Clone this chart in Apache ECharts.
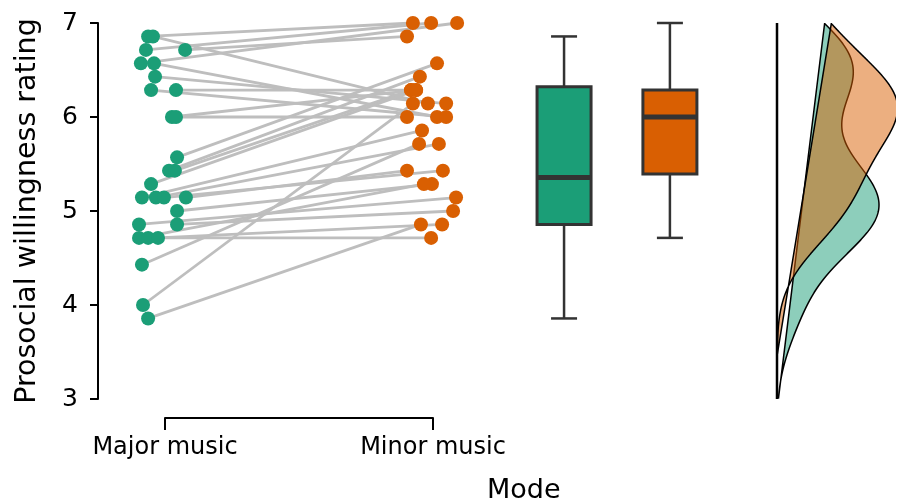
<!DOCTYPE html>
<html><head><meta charset="utf-8">
<script src="https://cdn.jsdelivr.net/npm/echarts@6/dist/echarts.min.js"></script>
<style>html,body{margin:0;padding:0;background:#fff}#c{width:897px;height:503px}</style>
</head><body><div id="c"></div>
<script>
// ---------------- data ----------------
const categories = ['Major music', 'Minor music'];
const yTicks = [3, 4, 5, 6, 7];
const axisTitleY = 'Prosocial willingness rating';
const axisTitleX = 'Mode';
// paired scores (participant i: major -> minor)
const majorScores = [6.857, 6.857, 6.714, 6.714, 6.571, 6.571, 6.429, 6.286, 6.286, 6.0, 6.0, 5.571, 5.429, 5.429,
  5.286, 5.143, 5.143, 5.143, 5.143, 5.0, 4.857, 4.857, 4.714, 4.714, 4.714, 4.429, 4.0, 3.857];
const minorScores = [7.0, 6.143, 7.0, 6.857, 7.0, 6.0, 6.143, 6.0, 6.286, 6.286, 6.0, 6.571, 6.429, 6.286,
  6.286, 5.857, 5.714, 5.429, 5.429, 5.286, 5.143, 5.0, 5.286, 4.714, 4.857, 5.714, 6.143, 4.857];
// horizontal jitter (category units)
const majorJitter = [-0.063, -0.045, -0.071, 0.075, -0.090, -0.041, -0.037, -0.052, 0.041, 0.026, 0.041, 0.045, 0.015, 0.037,
  -0.052, -0.086, -0.034, -0.004, 0.078, 0.045, -0.097, 0.045, -0.097, -0.063, -0.026, -0.086, -0.082, -0.063];
const minorJitter = [-0.075, -0.019, -0.007, -0.097, 0.090, 0.015, 0.049, 0.049, -0.082, -0.063, -0.097, 0.015, -0.049, -0.082,
  -0.063, -0.041, 0.022, 0.037, -0.097, -0.004, 0.086, 0.075, -0.034, -0.007, 0.034, -0.052, -0.075, -0.045];

// ---------------- layout / style ----------------
const GREEN = '#1B9E77', ORANGE = '#D95F02';
const FONT = 'DejaVu Sans';
const PX_PER_UNIT = 268;
const X_MIN = 0.75, GRID_W = 798;
const BOX_POS = [2.489, 2.884];
const DENS_BASE = 3.2836;
const DENS_SCALE = 245;          // px per density unit
const BW_ADJUST = [1.0, 1.35];   // bandwidth adjust per group

function quantile(arr, p) {
  const s = arr.slice().sort((a, b) => a - b);
  const h = (s.length - 1) * p, lo = Math.floor(h), hi = Math.ceil(h);
  return s[lo] + (h - lo) * (s[hi] - s[lo]);
}
function boxStats(arr) {
  const q1 = quantile(arr, 0.25), med = quantile(arr, 0.5), q3 = quantile(arr, 0.75);
  const iqr = q3 - q1;
  const inside = arr.filter(v => v >= q1 - 1.5 * iqr && v <= q3 + 1.5 * iqr);
  return [Math.min(...inside), q1, med, q3, Math.max(...inside)];
}
function sd(arr) {
  const m = arr.reduce((a, b) => a + b, 0) / arr.length;
  return Math.sqrt(arr.reduce((a, b) => a + (b - m) * (b - m), 0) / (arr.length - 1));
}
function kde(arr, adjust) {
  const n = arr.length;
  const bw = adjust * 0.9 * Math.min(sd(arr), (quantile(arr, 0.75) - quantile(arr, 0.25)) / 1.34) * Math.pow(n, -0.2);
  const lo = Math.min(...arr) - 3 * bw, hi = Math.max(...arr) + 3 * bw;
  const pts = [];
  for (let i = 0; i < 512; i++) {
    const y = lo + (hi - lo) * i / 511;
    if (y < 3 || y > 7) continue;
    let d = 0;
    for (const v of arr) { const z = (y - v) / bw; d += Math.exp(-0.5 * z * z); }
    d /= n * bw * Math.sqrt(2 * Math.PI);
    pts.push([d, y]);
  }
  return pts;
}

const groups = [
  { scores: majorScores, color: GREEN, fill: 'rgba(27,158,119,0.5)' },
  { scores: minorScores, color: ORANGE, fill: 'rgba(217,95,2,0.5)' }
];

const pairData = majorScores.map((v, i) => [1 + majorJitter[i], v, 2 + minorJitter[i], minorScores[i]]);
const majorPts = majorScores.map((v, i) => [1 + majorJitter[i], v]);
const minorPts = minorScores.map((v, i) => [2 + minorJitter[i], v]);
const boxData = groups.map((g, i) => [BOX_POS[i]].concat(boxStats(g.scores)));

const chart = echarts.init(document.getElementById('c'), null, { renderer: 'canvas' });
chart.setOption({
  animation: false,
  backgroundColor: '#fff',
  textStyle: { fontFamily: FONT },
  grid: [
    { left: 98, top: 23, width: GRID_W, height: 376 },
    { left: 165, top: 400, width: 268, height: 18 }
  ],
  xAxis: [
    { gridIndex: 0, type: 'value', min: X_MIN, max: X_MIN + GRID_W / PX_PER_UNIT, show: false },
    { gridIndex: 1, type: 'category', data: categories, boundaryGap: false, position: 'bottom',
      axisLine: { lineStyle: { color: '#000', width: 2 } },
      axisTick: { length: 12, lineStyle: { color: '#000', width: 2 } },
      axisLabel: { color: '#000', fontSize: 24, fontFamily: FONT, margin: 18 } }
  ],
  yAxis: [
    { gridIndex: 0, type: 'value', min: yTicks[0], max: yTicks[yTicks.length - 1], interval: 1,
      splitLine: { show: false },
      axisLine: { show: true, lineStyle: { color: '#000', width: 2 } },
      axisTick: { show: true, length: 8, lineStyle: { color: '#000', width: 2 } },
      axisLabel: { color: '#000', fontSize: 25, fontFamily: FONT, margin: 20 },
      name: axisTitleY, nameLocation: 'middle', nameGap: 56,
      nameTextStyle: { color: '#000', fontSize: 28.5, fontFamily: FONT } },
    { gridIndex: 1, type: 'value', show: false }
  ],
  graphic: [
    { type: 'text', left: 524 - 37, top: 477,
      style: { text: axisTitleX, fill: '#000', font: '27px "DejaVu Sans"' } }
  ],
  series: [
    { type: 'custom', xAxisIndex: 0, yAxisIndex: 0, data: pairData, z: 1,
      renderItem: (params, api) => {
        const a = api.coord([api.value(0), api.value(1)]);
        const b = api.coord([api.value(2), api.value(3)]);
        return { type: 'line', shape: { x1: a[0], y1: a[1], x2: b[0], y2: b[1] },
          style: { stroke: '#BEBEBE', lineWidth: 2.8 } };
      } },
    { type: 'scatter', xAxisIndex: 0, yAxisIndex: 0, data: majorPts, symbolSize: 14, z: 3,
      itemStyle: { color: GREEN, opacity: 1 } },
    { type: 'scatter', xAxisIndex: 0, yAxisIndex: 0, data: minorPts, symbolSize: 14, z: 3,
      itemStyle: { color: ORANGE, opacity: 1 } },
    { type: 'custom', xAxisIndex: 0, yAxisIndex: 0, data: boxData, z: 4,
      renderItem: (params, api) => {
        const x = api.value(0);
        const pMin = api.coord([x, api.value(1)]);
        const pQ1 = api.coord([x, api.value(2)]);
        const pMed = api.coord([x, api.value(3)]);
        const pQ3 = api.coord([x, api.value(4)]);
        const pMax = api.coord([x, api.value(5)]);
        const cx = pMed[0], hw = 27, cw = 13;
        const col = groups[params.dataIndex].color;
        const st = { stroke: '#333', lineWidth: 2.5 };
        return { type: 'group', children: [
          { type: 'line', shape: { x1: cx, y1: pQ3[1], x2: cx, y2: pMax[1] }, style: st },
          { type: 'line', shape: { x1: cx, y1: pQ1[1], x2: cx, y2: pMin[1] }, style: st },
          { type: 'line', shape: { x1: cx - cw, y1: pMax[1], x2: cx + cw, y2: pMax[1] }, style: st },
          { type: 'line', shape: { x1: cx - cw, y1: pMin[1], x2: cx + cw, y2: pMin[1] }, style: st },
          { type: 'rect', shape: { x: cx - hw, y: pQ3[1], width: 2 * hw, height: pQ1[1] - pQ3[1] },
            style: { fill: col, stroke: '#333', lineWidth: 3 } },
          { type: 'line', shape: { x1: cx - hw, y1: pMed[1], x2: cx + hw, y2: pMed[1] },
            style: { stroke: '#333', lineWidth: 5 } }
        ] };
      } },
    { type: 'custom', xAxisIndex: 0, yAxisIndex: 0, data: [0, 1], z: 5, clip: true,
      renderItem: (params, api) => {
        const g = groups[params.dataIndex];
        const pts = kde(g.scores, BW_ADJUST[params.dataIndex]).map(([d, y]) => {
          const p = api.coord([DENS_BASE, y]);
          return [p[0] + d * DENS_SCALE, p[1]];
        });
        return { type: 'polygon', shape: { points: pts },
          style: { fill: g.fill, stroke: '#000', lineWidth: 1.5 } };
      } },
    { type: 'custom', xAxisIndex: 0, yAxisIndex: 0, data: [[DENS_BASE, 3, 7]], z: 6,
      renderItem: (params, api) => {
        const a = api.coord([api.value(0), api.value(1)]);
        const b = api.coord([api.value(0), api.value(2)]);
        return { type: 'line', shape: { x1: a[0], y1: a[1], x2: b[0], y2: b[1] },
          style: { stroke: '#000', lineWidth: 2.5 } };
      } }
  ]
});
</script>
</body></html>
